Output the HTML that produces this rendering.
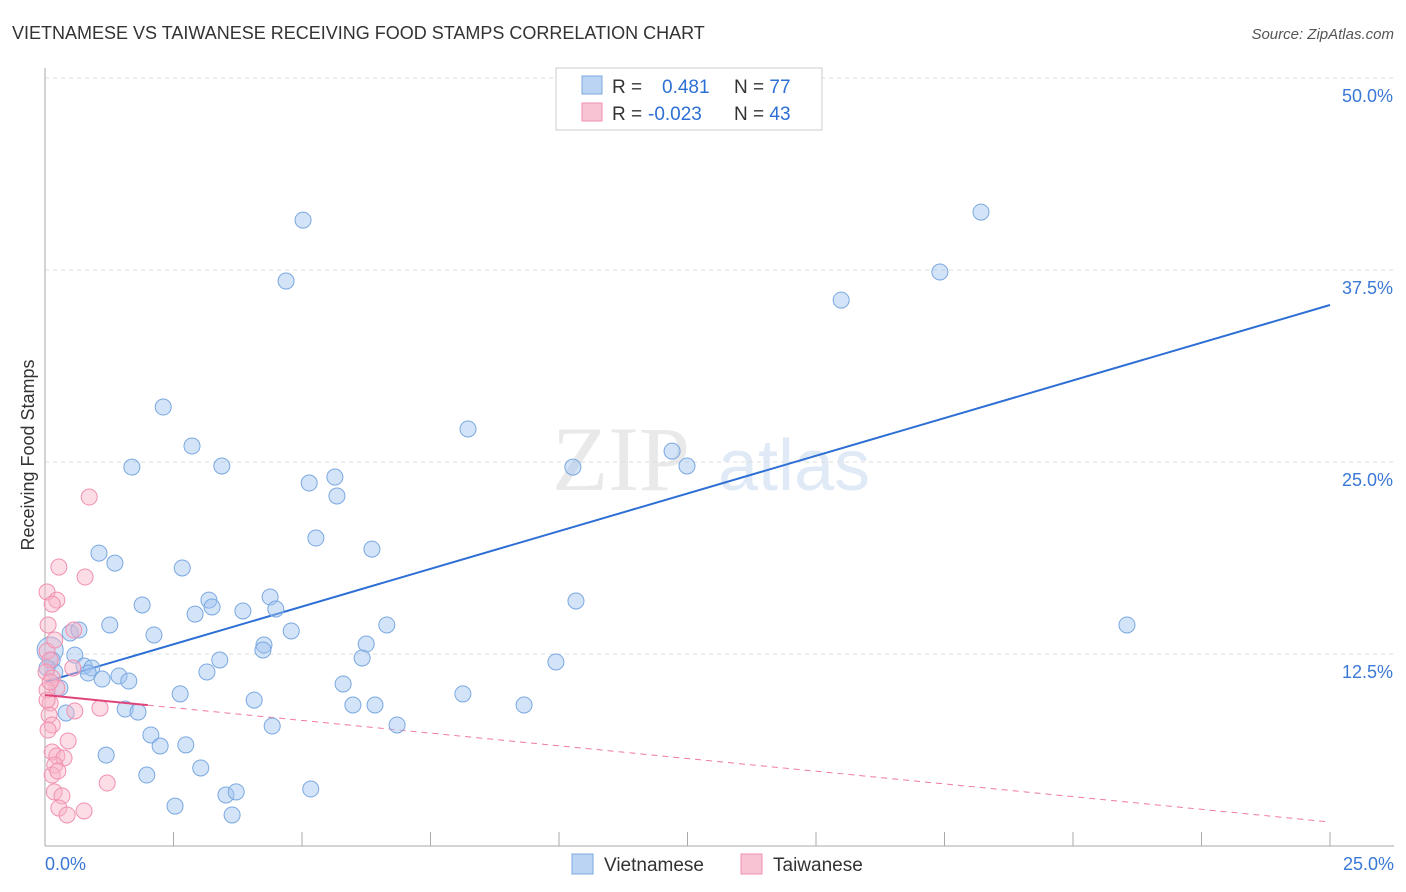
<!DOCTYPE html>
<html><head><meta charset="utf-8">
<style>
body{margin:0;background:#fff;font-family:"Liberation Sans",sans-serif;}
#wrap{position:relative;width:1406px;height:892px;overflow:hidden;}
</style></head>
<body>
<div id="wrap">
<svg id="chart" width="1406" height="892" xmlns="http://www.w3.org/2000/svg">
<text x="12" y="39" font-size="18" fill="#333">VIETNAMESE VS TAIWANESE RECEIVING FOOD STAMPS CORRELATION CHART</text>
<text x="1394" y="39" font-size="15" fill="#555" font-style="italic" text-anchor="end">Source: ZipAtlas.com</text>
<text x="34" y="455" font-size="18" fill="#333" text-anchor="middle" transform="rotate(-90 34 455)">Receiving Food Stamps</text>
<g opacity="0.18">
<text x="552" y="490" font-size="92" font-family="Liberation Serif,serif" fill="#888">ZIP</text>
<text x="718" y="490" font-size="72" fill="#5a8fd0">atlas</text>
</g>
<g id="grid"></g><g id="axes"></g><g id="lines"></g><g id="pts"></g>
<g>
<rect x="556" y="68" width="266" height="62" fill="#fff" stroke="#ccc"/>
<rect x="582" y="76" width="20" height="18" fill="#bcd4f4" stroke="#7aa8e0"/>
<rect x="582" y="103" width="20" height="18" fill="#f8c4d4" stroke="#f090b0"/>
<text x="612" y="93" font-size="19" fill="#333">R = <tspan x="662" fill="#2d6fd4">0.481</tspan><tspan x="734" fill="#333">N = </tspan><tspan fill="#2d6fd4">77</tspan></text>
<text x="612" y="120" font-size="19" fill="#333">R = <tspan x="648" fill="#2d6fd4">-0.023</tspan><tspan x="734" fill="#333">N = </tspan><tspan fill="#2d6fd4">43</tspan></text>
</g>
<g>
<rect x="572" y="854" width="21" height="20" fill="#bcd4f4" stroke="#7aa8e0"/>
<text x="604" y="871" font-size="19" fill="#333">Vietnamese</text>
<rect x="741" y="854" width="21" height="20" fill="#f8c4d4" stroke="#f090b0"/>
<text x="773" y="871" font-size="19" fill="#333">Taiwanese</text>
</g>
</svg>
</div>
<script>
const yTicks=[12.5,25,37.5,50];
const yTickLabels=["12.5%","25.0%","37.5%","50.0%"];
const xLabels=["0.0%","25.0%"];
const blueX=[5.02,4.69,18.21,17.41,15.49,2.30,2.86,1.69,3.44,8.23,12.20,10.27,12.49,5.64,5.14,5.68,5.27,6.36,1.05,1.36,2.67,10.33,21.05,1.89,3.19,3.25,2.92,3.85,4.38,4.49,1.26,2.12,4.79,6.65,6.25,4.26,4.24,0.49,0.66,0.58,3.40,6.17,9.94,0.14,0.76,0.91,0.84,1.44,1.63,1.11,3.15,0.19,0.29,5.80,2.63,8.13,4.07,5.99,6.42,9.32,0.41,1.56,1.81,6.85,4.42,2.06,2.24,2.74,1.19,3.03,1.98,5.17,3.52,3.72,2.53,3.64,0.04];
const blueY=[40.75,36.78,41.27,37.37,35.54,28.58,26.04,24.67,24.74,27.15,25.71,24.67,24.74,24.02,23.63,22.79,20.05,19.33,19.07,18.42,18.10,15.95,14.39,15.69,16.01,15.56,15.10,15.30,16.21,15.43,14.39,13.74,14.00,14.39,13.15,13.09,12.76,13.87,14.06,12.43,12.11,12.24,11.98,12.11,11.72,11.59,11.26,11.07,10.74,10.87,11.33,11.33,10.29,10.55,9.90,9.90,9.50,9.18,9.18,9.18,8.66,8.92,8.72,7.88,7.81,7.23,6.51,6.58,5.92,5.08,4.62,3.71,3.32,3.52,2.60,2.02,11.59];
const bigBlue=[0.10,12.76];
const pinkX=[0.86,0.27,0.78,0.04,0.23,0.14,0.56,0.06,0.04,0.19,0.10,0.02,0.14,0.23,0.04,0.10,0.58,1.07,0.08,0.14,0.06,0.45,0.14,0.23,0.37,0.19,0.14,0.25,1.21,0.18,0.33,0.27,0.43,0.76,0.10,0.04,0.54];
const pinkY=[22.72,18.16,17.51,16.54,16.01,15.75,14.06,14.39,12.69,13.41,12.11,11.33,10.94,10.29,10.16,9.31,8.79,8.98,8.53,7.88,7.55,6.84,6.12,5.86,5.73,5.27,4.62,4.88,4.10,3.52,3.26,2.47,2.02,2.28,10.68,9.50,11.59];
const blueTrend=[10.68,35.22];
const pinkTrend=[9.83,1.56];
const pinkSolidEnd=2.0;

const NS="http://www.w3.org/2000/svg";
const X0=45,X1=1330,Y0=846,YPER=192/12.5;
function sx(v){return X0+(X1-X0)*v/25;}
function sy(v){return Y0-v*YPER;}
function mk(tag,attrs,parent){const e=document.createElementNS(NS,tag);for(const k in attrs)e.setAttribute(k,attrs[k]);parent.appendChild(e);return e;}
const grid=document.getElementById('grid'),axes=document.getElementById('axes'),lines=document.getElementById('lines'),pts=document.getElementById('pts');
yTicks.forEach((t,i)=>{
  const l=mk('line',{x1:45,x2:1394,y1:sy(t),y2:sy(t),stroke:'#ddd','stroke-dasharray':'4,4'},grid);
  
  
  const tx=mk('text',{x:1393,y:sy(t)+24,'font-size':18,fill:'#3a78d6','text-anchor':'end'},axes);
  tx.textContent=yTickLabels[i];
  
  
});
const ax=mk('line',{x1:45,x2:45,y1:68,y2:846,stroke:'#aaa'},axes);


const bx=mk('line',{x1:45,x2:1394,y1:846,y2:846,stroke:'#aaa'},axes);


for(let i=1;i<=10;i++){
  const t=mk('line',{x1:sx(i*2.5),x2:sx(i*2.5),y1:832,y2:846,stroke:'#aaa'},axes);
  
  
}
[[0,'start',45],[25,'end',1394]].forEach((d,i)=>{
  const t=mk('text',{x:d[2],y:870,'font-size':18,fill:'#3a78d6','text-anchor':d[1]},axes);
  t.textContent=xLabels[i];
  
  
});
function dot(x,y,r,f,s,name){
  const c=mk('circle',{cx:sx(x),cy:sy(y),r:r,fill:f,stroke:s,'stroke-width':1},pts);
  
  
}
dot(bigBlue[0],bigBlue[1],13,'rgba(160,196,240,0.45)','#7aa8e0','vietnamese-point');
blueX.forEach((x,i)=>dot(x,blueY[i],8,'rgba(160,196,240,0.45)','#7aa8e0','vietnamese-point'));
pinkX.forEach((x,i)=>dot(x,pinkY[i],8,'rgba(248,180,200,0.45)','#f090b0','taiwanese-point'));
const bl=mk('line',{x1:sx(0),y1:sy(blueTrend[0]),x2:sx(25),y2:sy(blueTrend[1]),stroke:'#2d6fd4','stroke-width':2},lines);


const pm=(v)=>pinkTrend[0]+(pinkTrend[1]-pinkTrend[0])*v/25;
const pd=mk('line',{x1:sx(pinkSolidEnd),y1:sy(pm(pinkSolidEnd)),x2:sx(25),y2:sy(pinkTrend[1]),stroke:'#f07aa0','stroke-width':1,'stroke-dasharray':'6,5'},lines);


const ps=mk('line',{x1:sx(0),y1:sy(pinkTrend[0]),x2:sx(pinkSolidEnd),y2:sy(pm(pinkSolidEnd)),stroke:'#e0457a','stroke-width':2},pts);


</script>
</body></html>
